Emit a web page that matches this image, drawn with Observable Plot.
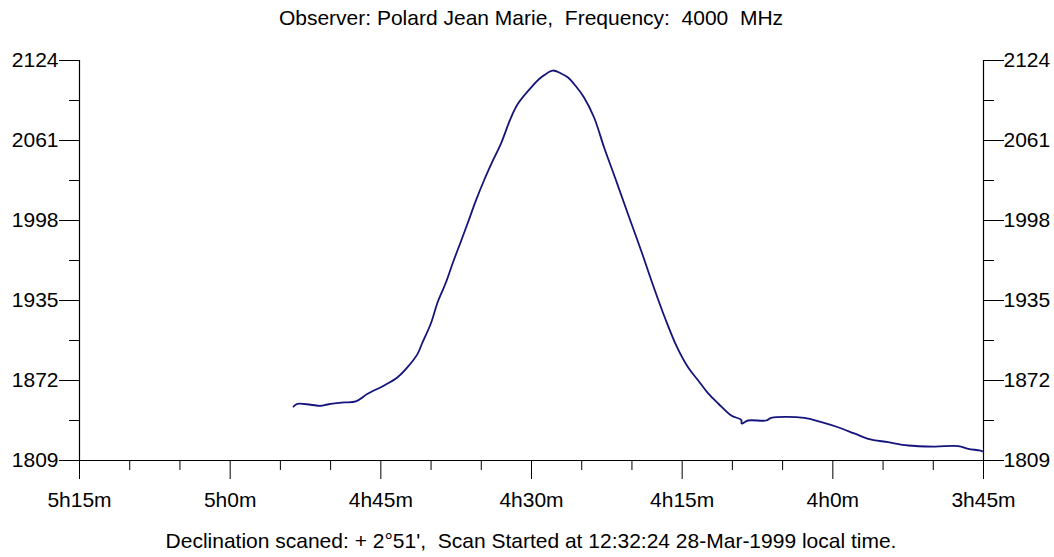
<!DOCTYPE html>
<html>
<head>
<meta charset="utf-8">
<script src="https://cdn.jsdelivr.net/npm/d3@7"></script>
<script src="https://cdn.jsdelivr.net/npm/@observablehq/plot@0.6"></script>
<style>
  body { margin: 0; background: #fff; }
  #wrap { position: relative; width: 1054px; height: 557px; font-family: "Liberation Sans", Arial, sans-serif; color: #000; }
  #wrap svg { position: absolute; left: 0; top: 0; }
  .note { position: absolute; left: 79px; width: 904px; text-align: center; font-size: 21px; line-height: 24px; white-space: pre; }
</style>
</head>
<body>
<div id="wrap">
  <div id="chart"></div>
  <div class="note" style="top:6px">Observer: Polard Jean Marie,  Frequency:  4000  MHz</div>
  <div class="note" style="top:529px">Declination scaned: + 2°51',  Scan Started at 12:32:24 28-Mar-1999 local time.</div>
</div>
<script>
// Drift scan: right ascension (minutes of time) and received level
const raMinutes = [
  293.70, 293.30, 291.98, 290.98, 290.31, 288.66, 287.49, 286.32, 284.67, 283.33,
  282.34, 281.34, 280.84, 280.02, 279.32, 278.52, 277.82, 277.03, 276.33, 275.53,
  274.73, 273.84, 273.04, 272.04, 271.34, 270.05, 269.05, 267.89, 267.06, 266.36,
  265.56, 264.77, 263.77, 262.77, 261.58, 260.38, 259.09, 257.89, 256.69, 255.50,
  254.40, 253.40, 252.41, 251.41, 250.11, 249.12, 249.07, 248.45, 246.63, 246.13,
  242.84, 241.14, 239.48, 237.86, 236.49, 234.50, 232.50, 229.88, 227.52, 226.52,
  225.40, 225.03
];
const level = [
  1851.5, 1853.6, 1852.9, 1852.1, 1853.1, 1854.7, 1855.5, 1861.5, 1868.1, 1874.6,
  1882.5, 1893.0, 1902.2, 1916.9, 1934.2, 1949.2, 1964.9, 1981.5, 1996.4, 2013.8,
  2029.5, 2045.3, 2058.6, 2079.1, 2090.1, 2102.7, 2110.6, 2116.1, 2113.8, 2110.6,
  2103.5, 2094.9, 2079.1, 2055.5, 2029.5, 2002.7, 1974.4, 1946.8, 1920.8, 1898.0,
  1882.2, 1872.0, 1861.8, 1853.9, 1844.4, 1841.0, 1838.1, 1840.5, 1840.5, 1842.6,
  1842.6, 1839.2, 1835.2, 1830.3, 1826.1, 1823.4, 1820.8, 1820.0, 1820.3, 1818.2,
  1816.9, 1816.1
];

// Axis ticks
const yTicks = [1809, 1872, 1935, 1998, 2061, 2124];
const yMinorTicks = [1840.5, 1903.5, 1966.5, 2029.5, 2092.5];
const xTicks = [315, 300, 285, 270, 255, 240, 225];
const xTickLabels = ["5h15m", "5h0m", "4h45m", "4h30m", "4h15m", "4h0m", "3h45m"];
const xMinorTicks = [310, 305, 295, 290, 280, 275, 265, 260, 250, 245, 235, 230];

const scan = raMinutes.map((ra, i) => ({ra, v: level[i]}));
const xDomain = [xTicks[0], xTicks[xTicks.length - 1]];
const yDomain = [yTicks[0], yTicks[yTicks.length - 1]];
const labelOf = new Map(xTicks.map((t, i) => [t, xTickLabels[i]]));

const chart = Plot.plot({
  width: 1054,
  height: 557,
  marginLeft: 79,
  marginRight: 71,
  marginTop: 60,
  marginBottom: 97,
  style: {fontFamily: "'Liberation Sans', Arial, sans-serif", fontSize: "21px", color: "#000", background: "#fff"},
  x: {domain: xDomain},
  y: {domain: yDomain},
  marks: [
    // left and right vertical axes, bottom axis
    Plot.ruleX(xDomain, {y1: yDomain[0], y2: yDomain[1], stroke: "#000", strokeWidth: 1.2}),
    Plot.ruleY([yDomain[0]], {stroke: "#000", strokeWidth: 1.2}),
    Plot.axisY({anchor: "left", ticks: yTicks, tickSize: 20, tickPadding: 1, label: null, tickFormat: d => String(d)}),
    Plot.axisY({anchor: "left", ticks: yMinorTicks, tickSize: 10, label: null, text: null}),
    Plot.axisY({anchor: "right", ticks: yTicks, tickSize: 20, tickPadding: 0, label: null, tickFormat: d => String(d)}),
    Plot.axisY({anchor: "right", ticks: yMinorTicks, tickSize: 10, label: null, text: null}),
    Plot.axisX({anchor: "bottom", ticks: xTicks, tickSize: 19, tickPadding: 13, label: null, tickFormat: d => labelOf.get(d)}),
    Plot.axisX({anchor: "bottom", ticks: xMinorTicks, tickSize: 10, label: null, text: null}),
    Plot.line(scan, {x: "ra", y: "v", curve: "catmull-rom", stroke: "#14147c", strokeWidth: 1.8})
  ]
});
document.getElementById("chart").appendChild(chart);
</script>
</body>
</html>
